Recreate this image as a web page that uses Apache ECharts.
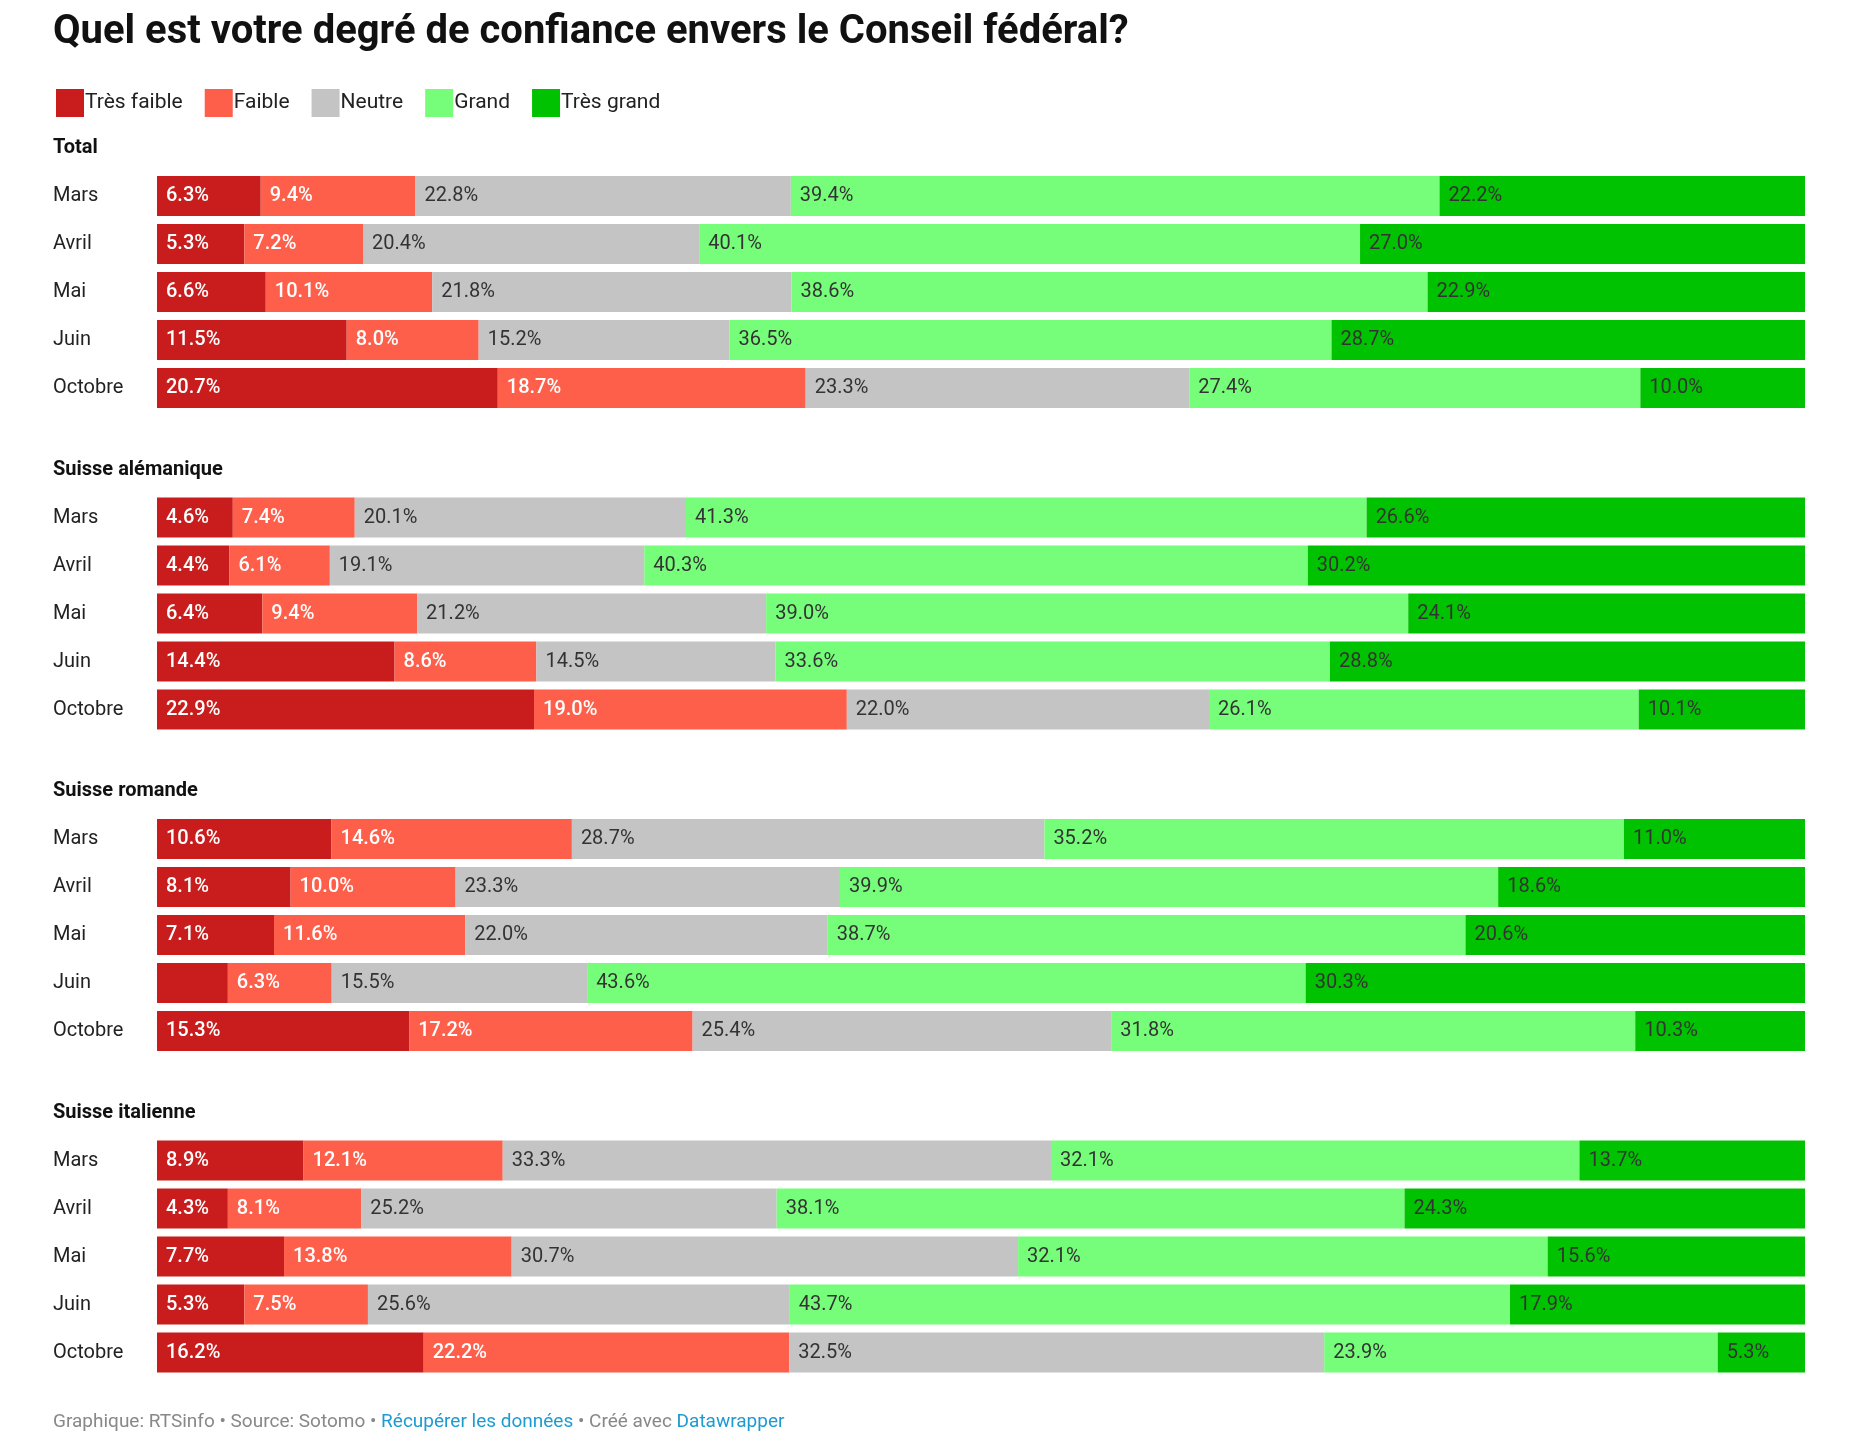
<!DOCTYPE html>
<html><head><meta charset="utf-8">
<script src="https://cdn.jsdelivr.net/npm/echarts@6/dist/echarts.min.js"></script>
<style>body{margin:0;background:#fff}#c{width:1853px;height:1455px}</style></head>
<body><div id="c"></div>
<script>
const groups = ['Total','Suisse alémanique','Suisse romande','Suisse italienne'];
const months = ['Mars','Avril','Mai','Juin','Octobre'];
const levels = ['Très faible','Faible','Neutre','Grand','Très grand'];
const colors = ['#c91d1d','#fe5f4b','#c4c4c4','#76fd7a','#00c200'];
// values[group][month] = [très faible, faible, neutre, grand, très grand]
const total = [[6.3,9.4,22.8,39.4,22.2],[5.3,7.2,20.4,40.1,27.0],[6.6,10.1,21.8,38.6,22.9],[11.5,8.0,15.2,36.5,28.7],[20.7,18.7,23.3,27.4,10.0]];
const alemanique = [[4.6,7.4,20.1,41.3,26.6],[4.4,6.1,19.1,40.3,30.2],[6.4,9.4,21.2,39.0,24.1],[14.4,8.6,14.5,33.6,28.8],[22.9,19.0,22.0,26.1,10.1]];
const romande = [[10.6,14.6,28.7,35.2,11.0],[8.1,10.0,23.3,39.9,18.6],[7.1,11.6,22.0,38.7,20.6],[4.3,6.3,15.5,43.6,30.3],[15.3,17.2,25.4,31.8,10.3]];
const italienne = [[8.9,12.1,33.3,32.1,13.7],[4.3,8.1,25.2,38.1,24.3],[7.7,13.8,30.7,32.1,15.6],[5.3,7.5,25.6,43.7,17.9],[16.2,22.2,32.5,23.9,5.3]];
const data = [total, alemanique, romande, italienne];

const S = 321.5, top0 = 172, rowH = 48;
const grids=[], xAxes=[], yAxes=[], series=[], graphics=[];
groups.forEach((g,gi)=>{
  grids.push({left:157, right:48, top: top0+S*gi, height: rowH*5});
  xAxes.push({gridIndex:gi, type:'value', min:0, max:100, show:false});
  yAxes.push({gridIndex:gi, type:'category', data:months, inverse:true,
    axisLine:{show:false}, axisTick:{show:false},
    axisLabel:{align:'left', margin:104, fontSize:20, color:'#222', fontFamily:'Roboto'}});
  graphics.push({type:'text', left:53, top: top0+S*gi-34, style:{text:g, fontSize:20, fontWeight:'bold', fill:'#111', fontFamily:'Roboto'}});
  levels.forEach((lv,k)=>{
    series.push({name:lv, type:'bar', stack:'s'+gi, xAxisIndex:gi, yAxisIndex:gi,
      barWidth:40, itemStyle:{color:colors[k]},
      data: data[gi].map(r=>{const sum=r.reduce((a,b)=>a+b,0); return {value:r[k]*100/sum, raw:r[k]};}),
      label:{show:true, position:'insideLeft', distance:9, fontSize:20, fontFamily:'Roboto',
        fontWeight: k<2?'500':'normal', color: k<2?'#fff':'#333',
        formatter: p => (gi===2 && p.dataIndex===3 && k===0) ? '' : p.data.raw.toFixed(1)+'%'}
    });
  });
});
graphics.push({type:'text', left:53, top:1413, style:{rich:{g:{fill:'#888',fontSize:19,fontFamily:'Roboto'},b:{fill:'#1d9bd1',fontSize:19,fontFamily:'Roboto'}},
  text:'{g|Graphique: RTSinfo • Source: Sotomo • }{b|Récupérer les données}{g| • Créé avec }{b|Datawrapper}'}});
const chart = echarts.init(document.getElementById('c'));
chart.setOption({
  animation:false,
  title:{text:'Quel est votre degré de confiance envers le Conseil fédéral?', left:48, top:8,
    textStyle:{fontSize:40, fontWeight:'bold', color:'#111', fontFamily:'Roboto'}},
  legend:{data:levels, left:51, top:84, icon:'rect', itemWidth:28, itemHeight:28, itemGap:22,
    textStyle:{fontSize:21, color:'#222', fontFamily:'Roboto', padding:[0,0,0,-4]}},
  grid:grids, xAxis:xAxes, yAxis:yAxes, series, graphic:graphics
});
</script></body></html>
